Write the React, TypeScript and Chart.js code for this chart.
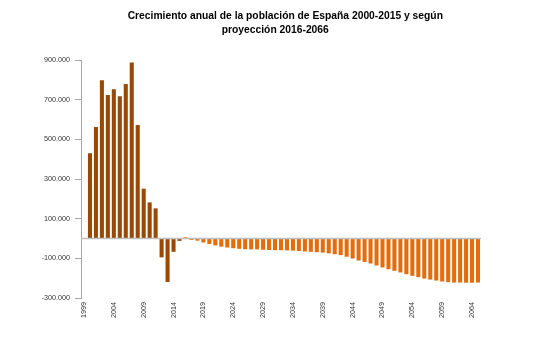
import React, { useEffect, useRef } from "react";
import { Chart, registerables } from "chart.js";

Chart.register(...registerables);

// Categories: 1999 (empty) .. 2065
const firstYear = 1999;
const lastYear = 2065;
const years: string[] = [];
for (let y = firstYear; y <= lastYear; y++) years.push(String(y));

// Observed annual growth 2000-2015
const observed2000_2015 = [
  430000, 562000, 798000, 723000, 752000, 717000, 779000, 888000,
  572000, 251000, 182000, 152000, -95000, -219000, -67000, -12000,
];

// Projected annual growth 2016-2065
const projected2016_2065 = [
  6000, -7000, -11000, -20000, -28000, -35000, -41000, -45000, -49000, -52000,
  -54000, -55000, -55000, -57000, -58000, -59000, -59000, -60000, -61000, -63000,
  -65000, -67000, -69000, -71000, -75000, -79000, -84000, -92000, -101000, -111000,
  -118000, -126000, -136000, -146000, -155000, -163000, -171000, -180000, -188000, -195000,
  -202000, -207000, -212000, -217000, -220000, -222000, -222000, -223000, -223000, -222000,
];

const yTicksMin = -300000;
const yTicksMax = 900000;
const yTicksStep = 200000;

const titleLine1 = "Crecimiento anual de la población de España 2000-2015 y según";
const titleLine2 = "proyección 2016-2066";

const values: (number | null)[] = [null, ...observed2000_2015, ...projected2016_2065];

const BROWN = "#984807";
const ORANGE = "#E46C0A";
const FONT = "'Liberation Sans', Arial, sans-serif";

function fmt(v: number): string {
  const s = String(Math.abs(Math.round(v))).replace(/\B(?=(\d{3})+(?!\d))/g, ".");
  return (v < 0 ? "-" : "") + s;
}

const zeroLinePlugin = {
  id: "zeroLine",
  afterDatasetsDraw(chart: any) {
    const { ctx, chartArea, scales } = chart;
    const y = scales.y.getPixelForValue(0);
    ctx.save();
    ctx.strokeStyle = "#BFBFBF";
    ctx.lineWidth = 1.5;
    ctx.beginPath();
    ctx.moveTo(chartArea.left, y);
    ctx.lineTo(chartArea.right, y);
    ctx.stroke();
    ctx.restore();
  },
};

export default function App() {
  const ref = useRef<HTMLCanvasElement | null>(null);

  useEffect(() => {
    document.body.style.margin = "0";
    const canvas = ref.current;
    if (!canvas) return;
    const observedCount = observed2000_2015.length;
    const chart = new Chart(canvas, {
      type: "bar",
      data: {
        labels: years,
        datasets: [
          {
            data: values,
            backgroundColor: (ctx: any) =>
              ctx.dataIndex <= observedCount ? BROWN : ORANGE,
            borderWidth: 0,
            categoryPercentage: 1,
            barPercentage: 0.68,
          },
        ],
      },
      options: {
        responsive: false,
        animation: false,
        layout: { padding: { left: 0, right: 62, top: 0, bottom: 0 } },
        plugins: {
          legend: { display: false },
          tooltip: { enabled: false },
          title: {
            display: true,
            text: "\u00A0\u00A0\u00A0" + titleLine1,
            fullSize: false,
            color: "#000",
            font: { family: FONT, size: 10.3, weight: "bold", lineHeight: "14px" },
            padding: { top: 9, bottom: 0 },
          },
          subtitle: {
            display: true,
            text: titleLine2 + "\u00A0\u00A0\u00A0\u00A0",
            fullSize: false,
            color: "#000",
            font: { family: FONT, size: 10.3, weight: "bold", lineHeight: "14px" },
            padding: { top: 0, bottom: 23 },
          },
        },
        scales: {
          x: {
            type: "category",
            offset: true,
            grid: { display: false, drawTicks: false },
            border: { display: false },
            ticks: {
              autoSkip: false,
              minRotation: 90,
              maxRotation: 90,
              padding: 4,
              color: "#333333",
              font: { family: FONT, size: 7.2 },
              callback: function (this: any, _val: any, idx: number) {
                return idx % 5 === 0 ? years[idx] : "";
              },
            },
            afterFit: (scale: any) => {
              scale.height = 53;
            },
          },
          y: {
            min: yTicksMin,
            max: yTicksMax,
            grid: {
              display: true,
              drawOnChartArea: false,
              drawTicks: true,
              tickLength: 6,
              color: "#A6A6A6",
            },
            border: { display: true, color: "#A6A6A6", width: 1 },
            ticks: {
              stepSize: yTicksStep,
              padding: 5,
              color: "#333333",
              font: { family: FONT, size: 7.2 },
              callback: (v: any) => fmt(Number(v)),
            },
            afterFit: (scale: any) => {
              scale.width = 81;
            },
          },
        },
      },
      plugins: [zeroLinePlugin],
    });
    return () => chart.destroy();
  }, []);

  return (
    <div style={{ width: 543, height: 351, background: "#fff" }}>
      <canvas ref={ref} width={543} height={351} />
    </div>
  );
}
